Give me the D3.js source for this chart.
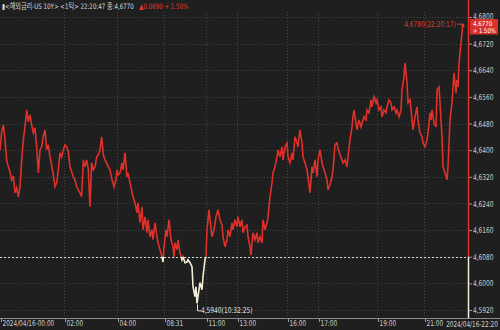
<!DOCTYPE html>
<html>
<head>
<meta charset="utf-8">
<script src="https://cdn.jsdelivr.net/npm/d3@7"></script>
<style>
  html, body { margin: 0; padding: 0; background: #1f1f1f; }
  svg { display: block; }
  text { font-family: "DejaVu Sans Condensed", "Noto Sans CJK KR", sans-serif; }
</style>
</head>
<body>
<svg id="chart" width="500" height="330"></svg>
<script>
// tick number (1-tick chart) and price
const series = [
  [0,4.6400],[5,4.6455],[10,4.6476],[15,4.6431],[20,4.6371],[25,4.6350],[30,4.6335],[35,4.6311],
  [40,4.6323],[45,4.6272],[50,4.6287],[55,4.6260],[60,4.6290],[65,4.6371],[70,4.6431],[75,4.6470],
  [80,4.6521],[85,4.6485],[90,4.6506],[95,4.6476],[100,4.6452],[105,4.6467],[110,4.6410],[115,4.6332],
  [120,4.6401],[125,4.6410],[130,4.6443],[135,4.6461],[140,4.6401],[145,4.6416],[150,4.6380],[155,4.6356],
  [160,4.6326],[165,4.6290],[170,4.6302],[175,4.6341],[180,4.6392],[185,4.6380],[190,4.6401],[195,4.6416],
  [200,4.6410],[205,4.6395],[210,4.6350],[215,4.6335],[220,4.6320],[225,4.6311],[230,4.6290],[235,4.6281],
  [240,4.6272],[245,4.6260],[250,4.6371],[255,4.6350],[260,4.6371],[265,4.6341],[270,4.6230],[275,4.6362],
  [280,4.6341],[285,4.6350],[290,4.6380],[295,4.6386],[300,4.6401],[305,4.6440],[310,4.6386],[315,4.6371],
  [320,4.6362],[325,4.6350],[330,4.6341],[336,4.6311],[339,4.6302],[342,4.6290],[348,4.6311],[351,4.6341],
  [354,4.6326],[360,4.6332],[366,4.6362],[369,4.6341],[375,4.6392],[381,4.6320],[384,4.6332],[390,4.6302],
  [399,4.6260],[405,4.6242],[411,4.6212],[414,4.6242],[420,4.6182],[426,4.6230],[429,4.6161],[435,4.6200],
  [441,4.6152],[444,4.6191],[450,4.6140],[456,4.6161],[459,4.6131],[465,4.6182],[471,4.6140],[474,4.6122],
  [480,4.6101],[486,4.6080],[489,4.6064],[492,4.6110],[498,4.6161],[501,4.6140],[507,4.6191],[513,4.6131],
  [519,4.6110],[522,4.6080],[525,4.6122],[531,4.6101],[534,4.6131],[540,4.6092],[546,4.6071],[549,4.6080],
  [555,4.6062],[561,4.6064],[564,4.6071],[570,4.6062],[576,4.6050],[579,4.5990],[585,4.5960],[588,4.5990],
  [591,4.5940],[597,4.5981],[600,4.6002],[606,4.5981],[609,4.6020],[615,4.6071],[618,4.6080],[621,4.6161],
  [627,4.6221],[630,4.6191],[636,4.6140],[642,4.6161],[648,4.6200],[654,4.6221],[660,4.6191],[666,4.6175],
  [669,4.6140],[675,4.6110],[681,4.6131],[684,4.6161],[690,4.6140],[696,4.6182],[699,4.6161],[705,4.6191],
  [711,4.6170],[714,4.6200],[720,4.6170],[726,4.6191],[729,4.6152],[735,4.6170],[741,4.6175],[744,4.6140],
  [750,4.6110],[753,4.6085],[756,4.6122],[759,4.6152],[765,4.6131],[771,4.6152],[774,4.6122],[780,4.6140],
  [786,4.6122],[789,4.6191],[795,4.6161],[801,4.6182],[804,4.6200],[810,4.6260],[816,4.6302],[819,4.6332],
  [825,4.6350],[831,4.6380],[834,4.6401],[840,4.6380],[846,4.6410],[849,4.6371],[855,4.6410],[861,4.6422],
  [864,4.6380],[870,4.6362],[876,4.6392],[879,4.6371],[885,4.6440],[891,4.6422],[894,4.6410],[900,4.6461],
  [906,4.6422],[909,4.6380],[915,4.6362],[921,4.6341],[924,4.6320],[930,4.6272],[936,4.6350],[939,4.6332],
  [945,4.6371],[951,4.6320],[954,4.6371],[960,4.6401],[966,4.6362],[969,4.6350],[975,4.6332],[981,4.6311],
  [984,4.6281],[990,4.6296],[996,4.6320],[999,4.6341],[1005,4.6416],[1011,4.6422],[1014,4.6407],[1020,4.6386],
  [1026,4.6371],[1029,4.6362],[1035,4.6371],[1041,4.6350],[1044,4.6380],[1050,4.6431],[1056,4.6470],[1059,4.6500],
  [1062,4.6521],[1068,4.6482],[1071,4.6461],[1077,4.6491],[1083,4.6470],[1086,4.6482],[1092,4.6500],[1098,4.6491],
  [1101,4.6521],[1107,4.6512],[1113,4.6551],[1116,4.6530],[1122,4.6560],[1128,4.6542],[1131,4.6551],[1137,4.6521],
  [1143,4.6530],[1146,4.6500],[1152,4.6521],[1158,4.6512],[1161,4.6530],[1167,4.6551],[1173,4.6542],[1176,4.6521],
  [1182,4.6530],[1188,4.6512],[1191,4.6521],[1197,4.6500],[1203,4.6521],[1206,4.6581],[1212,4.6620],[1215,4.6662],
  [1221,4.6602],[1224,4.6542],[1230,4.6551],[1236,4.6491],[1239,4.6461],[1245,4.6500],[1251,4.6530],[1254,4.6491],
  [1260,4.6452],[1266,4.6440],[1269,4.6422],[1275,4.6410],[1281,4.6431],[1284,4.6452],[1290,4.6512],[1293,4.6491],
  [1296,4.6521],[1302,4.6482],[1308,4.6470],[1311,4.6581],[1317,4.6590],[1320,4.6542],[1326,4.6440],[1329,4.6350],
  [1335,4.6332],[1341,4.6311],[1344,4.6350],[1347,4.6422],[1350,4.6491],[1356,4.6542],[1359,4.6590],[1362,4.6632],
  [1368,4.6572],[1371,4.6611],[1374,4.6590],[1377,4.6662],[1380,4.6692],[1383,4.6722],[1386,4.6752],[1389,4.6780],
  [1392,4.6770]
];

const prevClose = 4.6080;
const lastPrice = 4.6770;
const yTicks = [4.5920, 4.6000, 4.6080, 4.6160, 4.6240, 4.6320, 4.6400, 4.6480, 4.6560, 4.6640, 4.6720, 4.6800];
const xTickPos = [0, 192, 351, 492, 618, 711, 861, 954, 1131, 1272];
const xTickLabels = ["2024/04/16-00:00", "02:00", "04:00", "08:31", "11:00", "13:00", "16:00", "17:00", "19:00", "21:00"];
const lastLabel = "2024/04/16-22:20";
const maxLabel = "4,6780(22:20:17)";
const minLabel = "4,5940(10:32:25)";
const headTitle = "▮<해외금리-US 10Y> <1틱> 22:20:47 종:4,6770";
const headChange = "▲0.0690  + 1.50%";

const RED = "#e0302a";
const WHITE = "#f2eed8";
const W = 500, H = 330;
const plot = { left: 0, right: 468, top: 12, bottom: 318 };

const fmt = (v) => v.toFixed(4).replace(".", ",");

// squeeze text horizontally (the screen font is narrow); returns new width
function squeeze(sel, k) {
  let w = 0;
  sel.each(function () {
    const t = d3.select(this);
    const tx = +t.attr("x") || 0, ty = +t.attr("y") || 0;
    w = this.getComputedTextLength() * k;
    t.attr("x", 0).attr("y", 0)
      .attr("transform", `translate(${tx},${ty}) scale(${k},1)`);
  });
  return w;
}
function moveTo(sel, tx, ty, k) {
  sel.attr("transform", `translate(${tx},${ty}) scale(${k},1)`);
}

const svg = d3.select("#chart");

const x = d3.scaleLinear().domain([0, 1404]).range([plot.left, plot.right]);
const y = d3.scaleLinear().domain([4.5920, 4.6800]).range([310, 17]);

// background
svg.append("rect").attr("width", W).attr("height", H).attr("fill", "#1f1f1f");

// grid
svg.append("g")
  .selectAll("line")
  .data(yTicks)
  .join("line")
  .attr("x1", plot.left).attr("x2", plot.right)
  .attr("y1", (d) => Math.round(y(d)) + 0.5).attr("y2", (d) => Math.round(y(d)) + 0.5)
  .attr("stroke", "#444")
  .attr("stroke-dasharray", "1,2");

svg.append("g")
  .selectAll("line")
  .data(xTickPos.slice(1))
  .join("line")
  .attr("x1", (d) => Math.round(x(d)) + 0.5).attr("x2", (d) => Math.round(x(d)) + 0.5)
  .attr("y1", plot.top).attr("y2", plot.bottom)
  .attr("stroke", "#444")
  .attr("stroke-dasharray", "1,2");

// previous close line
const yBase = y(prevClose);
svg.append("line")
  .attr("x1", plot.left).attr("x2", plot.right)
  .attr("y1", Math.round(yBase) + 0.5).attr("y2", Math.round(yBase) + 0.5)
  .attr("stroke", "#d8d8d8")
  .attr("stroke-dasharray", "2,2");

// clips for above / below previous close
const defs = svg.append("defs");
defs.append("clipPath").attr("id", "above")
  .append("rect").attr("x", 0).attr("y", 0).attr("width", W).attr("height", yBase);
defs.append("clipPath").attr("id", "below")
  .append("rect").attr("x", 0).attr("y", yBase).attr("width", W).attr("height", H - yBase);

const line = d3.line()
  .x((d) => x(d[0]))
  .y((d) => y(d[1]));

svg.append("path")
  .datum(series)
  .attr("d", line)
  .attr("fill", "none")
  .attr("stroke", RED)
  .attr("stroke-width", 1.6)
  .attr("clip-path", "url(#above)");

svg.append("path")
  .datum(series)
  .attr("d", line)
  .attr("fill", "none")
  .attr("stroke", WHITE)
  .attr("stroke-width", 1.6)
  .attr("clip-path", "url(#below)");

// right axis line, red above close and white below
svg.append("line")
  .attr("x1", plot.right + 0.5).attr("x2", plot.right + 0.5)
  .attr("y1", 0).attr("y2", yBase)
  .attr("stroke", RED).attr("stroke-width", 1.5);
svg.append("line")
  .attr("x1", plot.right + 0.5).attr("x2", plot.right + 0.5)
  .attr("y1", yBase).attr("y2", plot.bottom)
  .attr("stroke", WHITE).attr("stroke-width", 1.5);

// y axis ticks and labels
const yAxis = svg.append("g").attr("transform", `translate(${plot.right + 1},0)`)
  .call(d3.axisRight(y).tickValues(yTicks).tickSize(3).tickFormat(fmt));
yAxis.select(".domain").remove();
yAxis.selectAll("line").attr("stroke", "#999");
yAxis.selectAll("text")
  .attr("x", 4)
  .attr("fill", "#cfcfcf")
  .style("font-size", "8px")
  .call(squeeze, 0.82);
// top label sits just above the price box
yAxis.selectAll("text").filter((d) => d === yTicks[yTicks.length - 1])
  .attr("dy", "0.15em");

// x axis
svg.append("line")
  .attr("x1", 0).attr("x2", W)
  .attr("y1", plot.bottom + 0.5).attr("y2", plot.bottom + 0.5)
  .attr("stroke", "#8a8a8a");

const xAxis = svg.append("g").attr("transform", `translate(0,${plot.bottom})`)
  .call(d3.axisBottom(x).tickValues(xTickPos).tickSize(4)
    .tickFormat((d, i) => xTickLabels[i]));
xAxis.select(".domain").remove();
xAxis.selectAll("line").attr("stroke", "#999").attr("transform", "translate(1,0)");
xAxis.selectAll("text")
  .attr("text-anchor", "start")
  .attr("x", 2)
  .attr("y", 2)
  .attr("fill", "#cfcfcf")
  .style("font-size", "8px")
  .call(squeeze, 0.8);

const lastT = svg.append("text")
  .attr("y", 327)
  .attr("fill", "#cfcfcf")
  .style("font-size", "8px")
  .text(lastLabel);
const wLast = squeeze(lastT, 0.8);
moveTo(lastT, W - 2 - wLast, 327, 0.8);

// max / min annotations
const maxPt = series.reduce((a, b) => (b[1] > a[1] ? b : a));
const minPt = series.reduce((a, b) => (b[1] < a[1] ? b : a));

const maxT = svg.append("text")
  .attr("fill", "#d7402f")
  .style("font-size", "8px")
  .text(maxLabel);
const wMax = squeeze(maxT, 0.82);
moveTo(maxT, x(maxPt[0]) - 7 - wMax, y(maxPt[1]) + 3, 0.82);
svg.append("path")
  .attr("d", `M${x(maxPt[0]) - 6},${y(maxPt[1]) + 0.5}H${x(maxPt[0]) - 1}V${y(maxPt[1]) + 4}`)
  .attr("fill", "none")
  .attr("stroke", "#d7402f");

svg.append("path")
  .attr("d", `M${x(minPt[0]) + 0.5},${y(minPt[1]) + 1}V${y(minPt[1]) + 7.5}H${x(minPt[0]) + 4}`)
  .attr("fill", "none")
  .attr("stroke", "#e0e0e0");
svg.append("text")
  .attr("x", x(minPt[0]) + 4).attr("y", y(minPt[1]) + 10)
  .attr("fill", "#e0e0e0")
  .style("font-size", "8px")
  .text(minLabel)
  .call(squeeze, 0.82);

// current price box
const yLast = y(lastPrice);
svg.append("rect")
  .attr("x", plot.right + 2).attr("y", yLast - 8)
  .attr("width", 28).attr("height", 15.5)
  .attr("fill", "#d9322a");
svg.append("text")
  .attr("x", plot.right + 5).attr("y", yLast - 0.8)
  .attr("fill", "#fff")
  .style("font-size", "6.5px")
  .text(fmt(lastPrice))
  .call(squeeze, 0.95);
svg.append("text")
  .attr("x", plot.right + 5).attr("y", yLast + 6)
  .attr("fill", "#fff")
  .style("font-size", "6.5px")
  .text("+ 1.50%")
  .call(squeeze, 0.9);

// header
const headA = svg.append("text")
  .attr("x", 2).attr("y", 9)
  .style("font-size", "7.5px")
  .attr("fill", "#d8d8d8")
  .text(headTitle);
const wA = squeeze(headA, 0.82);
svg.append("text")
  .attr("x", 2 + wA + 5).attr("y", 9)
  .style("font-size", "7.5px")
  .attr("fill", "#e0392f")
  .text(headChange)
  .call(squeeze, 0.82);
</script>
</body>
</html>
